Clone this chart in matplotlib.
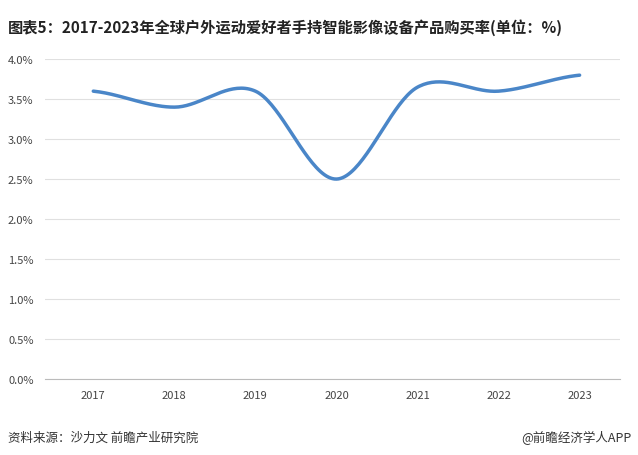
import matplotlib
matplotlib.use("Agg")
import matplotlib.pyplot as plt
import numpy as np

plt.rcParams['font.family'] = ['Noto Sans CJK SC', 'DejaVu Sans']

years = ['2017', '2018', '2019', '2020', '2021', '2022', '2023']
rates = [3.6, 3.4, 3.6, 2.5, 3.65, 3.6, 3.8]

def catmull(y, n=40):
    x = np.arange(len(y), dtype=float)
    yy = np.array(y, float)
    pts = np.concatenate([[yy[0]], yy, [yy[-1]]])
    xs, ys = [], []
    for i in range(len(y) - 1):
        p0, p1, p2, p3 = pts[i], pts[i+1], pts[i+2], pts[i+3]
        t = np.linspace(0, 1, n, endpoint=False)
        m1 = (p2 - p0) / 2; m2 = (p3 - p1) / 2
        h00 = 2*t**3 - 3*t**2 + 1; h10 = t**3 - 2*t**2 + t
        h01 = -2*t**3 + 3*t**2; h11 = t**3 - t**2
        ys.append(h00*p1 + h10*m1 + h01*p2 + h11*m2)
        xs.append(x[i] + t)
    xs.append([x[-1]]); ys.append([yy[-1]])
    return np.concatenate(xs), np.concatenate(ys)

fig = plt.figure(figsize=(6.38, 4.56), dpi=100)
ax = fig.add_axes([0.07, 0.167, 0.902, 0.701])
sx, sy = catmull(rates)
ax.plot(sx, sy, color='#4a86c8', lw=2.5, solid_capstyle='round')
ax.set_xlim(-0.6, 6.5)
ax.set_ylim(0, 4.0)
ax.set_yticks(np.arange(0, 4.01, 0.5))
ax.set_yticklabels([f'{v:.1f}%' for v in np.arange(0, 4.01, 0.5)])
ax.set_xticks(range(len(years)))
ax.set_xticklabels(years)
ax.grid(axis='y', color='#e0e0e0', lw=0.8)
ax.set_axisbelow(True)
for s in ['left', 'right', 'top']:
    ax.spines[s].set_visible(False)
ax.spines['bottom'].set_color('#bbbbbb')
ax.tick_params(axis='both', length=0, labelsize=8, colors='#444444', pad=8)

fig.text(0.012, 0.94, '图表5：2017-2023年全球户外运动爱好者手持智能影像设备产品购买率(单位：%)',
         fontsize=11, fontweight='bold', color='#222222', va='center')
fig.text(0.012, 0.04, '资料来源：沙力文 前瞻产业研究院', fontsize=9, color='#333333', va='center')
fig.text(0.99, 0.04, '@前瞻经济学人APP', fontsize=9, color='#333333', va='center', ha='right')
fig.savefig('out.png', dpi=100)
